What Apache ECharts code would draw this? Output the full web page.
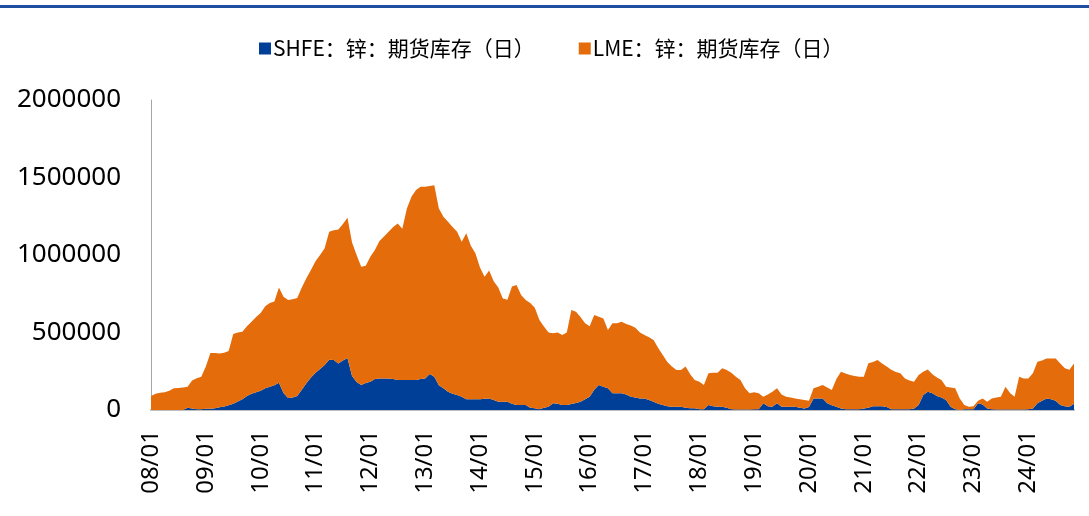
<!DOCTYPE html>
<html>
<head>
<meta charset="utf-8">
<script src="https://cdn.jsdelivr.net/npm/echarts@6/dist/echarts.min.js"></script>
<style>
  html, body { margin: 0; padding: 0; background: #fff; }
  #chart { width: 1089px; height: 516px; }
</style>
</head>
<body>
<div id="chart"></div>
<script>
// monthly points, 2008-01 .. 2024-11
const startYear = 2008
const monthCount = 203

const seriesNames = ['SHFE：锌：期货库存（日）', 'LME：锌：期货库存（日）']

const shfeStock = [
  0, 0, 0, 0, 0, 0, 0, 0, 15000, 10000, 5000, 5000,
  8000, 8000, 12000, 17000, 22000, 30000, 40000, 55000, 70000, 90000, 105000, 115000,
  125000, 140000, 150000, 160000, 176000, 110000, 78000, 80000, 90000, 130000, 172000, 210000,
  240000, 265000, 290000, 325000, 323000, 300000, 320000, 335000, 220000, 180000, 161000, 175000,
  183000, 200000, 204000, 204000, 204000, 200000, 194000, 194000, 194000, 194000, 194000, 200000,
  204000, 232000, 215000, 160000, 140000, 118000, 105000, 97000, 85000, 70000, 69000, 69000,
  69000, 72000, 75000, 65000, 54000, 54000, 54000, 40000, 32000, 32000, 32000, 15000,
  11000, 5000, 15000, 21000, 43000, 40000, 32000, 32000, 38000, 45000, 54000, 70000,
  86000, 130000, 161000, 150000, 140000, 108000, 108000, 108000, 100000, 86000, 80000, 75000,
  75000, 65000, 54000, 40000, 32000, 25000, 21000, 21000, 21000, 15000, 11000, 11000,
  5000, 5000, 32000, 25000, 21000, 21000, 15000, 5000, 3000, 3000, 3000, 3000,
  5000, 5000, 43000, 25000, 21000, 43000, 21000, 21000, 21000, 21000, 15000, 10000,
  20000, 75000, 75000, 75000, 43000, 30000, 21000, 10000, 5000, 5000, 5000, 5000,
  10000, 15000, 25000, 25000, 25000, 20000, 5000, 5000, 5000, 5000, 5000, 10000,
  32000, 97000, 118000, 108000, 90000, 80000, 65000, 21000, 5000, 0, 5000, 5000,
  5000, 43000, 35000, 10000, 5000, 3000, 3000, 3000, 3000, 3000, 3000, 3000,
  5000, 10000, 43000, 60000, 75000, 70000, 60000, 32000, 25000, 21000, 40000
]

const lmeStock = [
  90000, 105000, 112000, 115000, 125000, 140000, 142000, 145000, 135000, 180000, 200000, 210000,
  272000, 359000, 355000, 348000, 348000, 350000, 450000, 445000, 435000, 450000, 465000, 485000,
  501000, 530000, 540000, 540000, 614000, 620000, 632000, 635000, 632000, 660000, 678000, 693000,
  720000, 735000, 753000, 825000, 837000, 865000, 880000, 905000, 860000, 820000, 764000, 755000,
  806000, 832000, 886000, 916000, 946000, 980000, 1010000, 976000, 1106000, 1182000, 1226000, 1241000,
  1237000, 1213000, 1235000, 1140000, 1107000, 1097000, 1075000, 1053000, 1001000, 1070000, 991000, 942000,
  851000, 788000, 825000, 765000, 736000, 666000, 658000, 756000, 774000, 710000, 678000, 675000,
  649000, 576000, 523000, 479000, 452000, 460000, 452000, 468000, 607000, 589000, 546000, 489000,
  454000, 483000, 441000, 440000, 376000, 451000, 452000, 462000, 455000, 459000, 450000, 425000,
  409000, 405000, 398000, 360000, 323000, 285000, 259000, 237000, 237000, 265000, 219000, 183000,
  178000, 156000, 205000, 215000, 219000, 248000, 243000, 235000, 212000, 191000, 137000, 105000,
  110000, 103000, 43000, 75000, 97000, 97000, 79000, 65000, 59000, 54000, 55000, 55000,
  40000, 65000, 75000, 86000, 102000, 99000, 179000, 237000, 230000, 221000, 215000, 210000,
  205000, 286000, 285000, 298000, 275000, 260000, 255000, 240000, 232000, 199000, 185000, 173000,
  194000, 150000, 144000, 122000, 120000, 114000, 85000, 124000, 135000, 75000, 27000, 16000,
  20000, 17000, 40000, 44000, 70000, 77000, 83000, 147000, 107000, 83000, 212000, 201000,
  199000, 227000, 269000, 260000, 258000, 263000, 273000, 268000, 244000, 239000, 260000
]

const yTicks = [0, 500000, 1000000, 1500000, 2000000]

function buildMonths() {
  const months = []
  for (let i = 0; i < monthCount; i += 1) {
    const y = startYear + Math.floor(i / 12)
    const m = (i % 12) + 1
    months.push(y + '-' + (m < 10 ? '0' + m : m))
  }
  return months
}

const months = buildMonths()
const chart = echarts.init(document.getElementById('chart'))

function areaSeries(name, data, color) {
  return {
    name: name,
    type: 'line',
    stack: 'total',
    data: data,
    showSymbol: false,
    symbol: 'none',
    lineStyle: { width: 0 },
    areaStyle: { color: color, opacity: 1 },
    itemStyle: { color: color },
  }
}

chart.setOption({
  animation: false,
  textStyle: { fontFamily: 'Noto Sans, Noto Sans CJK SC, sans-serif' },
  graphic: [{
    type: 'rect',
    shape: { x: 0, y: 5, width: 1089, height: 3 },
    style: { fill: '#1f4e9e' },
  }],
  legend: {
    top: 33,
    left: 254,
    icon: 'rect',
    itemWidth: 12,
    itemHeight: 12,
    itemGap: 44,
    textStyle: { fontSize: 21, color: '#000', fontFamily: 'Noto Sans CJK SC', padding: [0, 0, 0, -3] },
    data: seriesNames,
  },
  grid: {
    left: 151,
    right: 15,
    top: 100,
    bottom: 106,
  },
  xAxis: {
    type: 'category',
    data: months,
    boundaryGap: false,
    axisLine: { lineStyle: { color: '#bfbfbf', width: 2 } },
    axisTick: { show: false },
    axisLabel: {
      rotate: 90,
      margin: 20,
      fontSize: 24,
      color: '#000',
      interval: (idx, val) => val.slice(5) === '01',
      formatter: (val) => val.slice(2, 4) + '/01',
    },
    splitLine: { show: false },
  },
  yAxis: {
    type: 'value',
    min: yTicks[0],
    max: yTicks[yTicks.length - 1],
    interval: 500000,
    axisLine: { show: true, lineStyle: { color: '#a6a6a6', width: 1 } },
    axisTick: { show: false },
    splitLine: { show: false },
    axisLabel: {
      fontSize: 26,
      color: '#000',
      margin: 30,
      formatter: (v) => String(v),
    },
  },
  series: [
    areaSeries(seriesNames[0], shfeStock, '#003f98'),
    areaSeries(seriesNames[1], lmeStock, '#e46c0a'),
  ],
})
</script>
</body>
</html>
